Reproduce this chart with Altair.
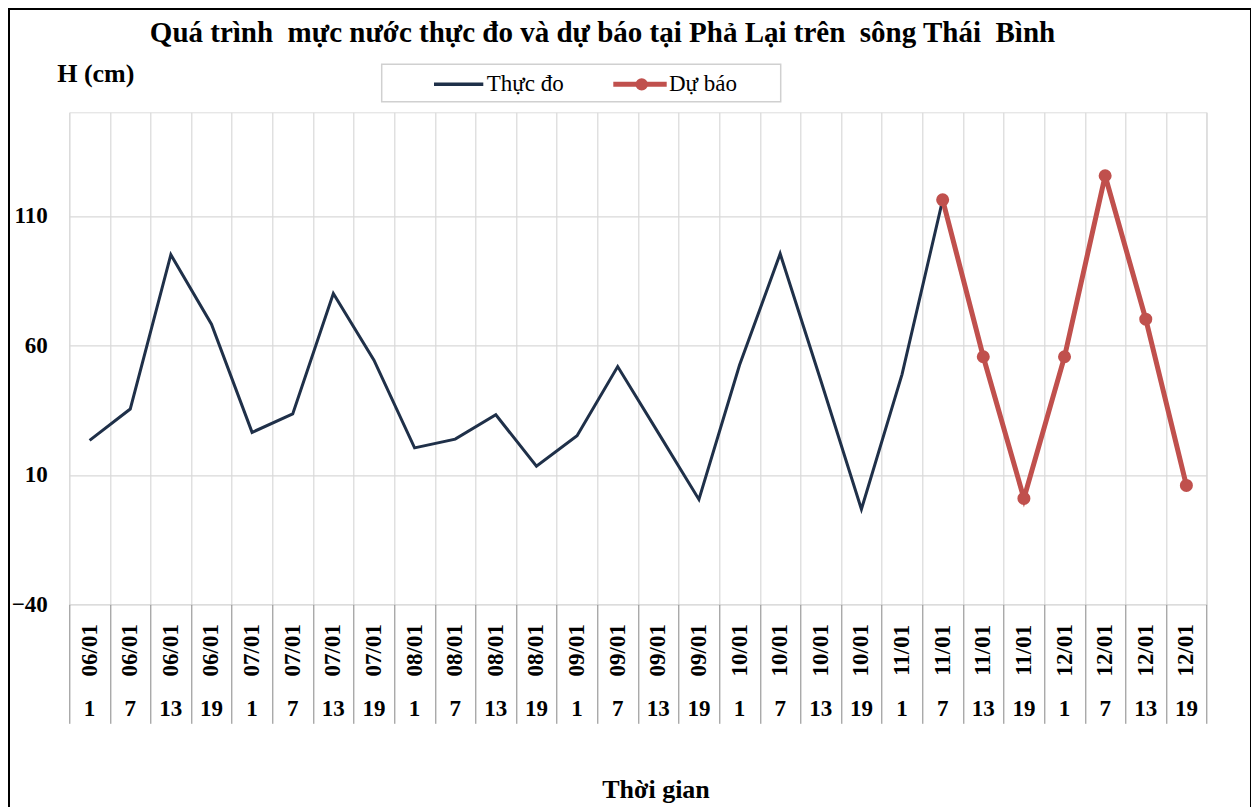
import altair as alt
import pandas as pd

# ---------------- data ----------------
keys = ["06/01 1", "06/01 7", "06/01 13", "06/01 19",
        "07/01 1", "07/01 7", "07/01 13", "07/01 19",
        "08/01 1", "08/01 7", "08/01 13", "08/01 19",
        "09/01 1", "09/01 7", "09/01 13", "09/01 19",
        "10/01 1", "10/01 7", "10/01 13", "10/01 19",
        "11/01 1", "11/01 7", "11/01 13", "11/01 19",
        "12/01 1", "12/01 7", "12/01 13", "12/01 19"]
dates = ["06/01"] * 4 + ["07/01"] * 4 + ["08/01"] * 4 + ["09/01"] * 4 + \
        ["10/01"] * 4 + ["11/01"] * 4 + ["12/01"] * 4
hours = ["1", "7", "13", "19"] * 7

measured = [23.3, 35.4, 95.0, 68.2, 26.4, 33.5, 80.0, 54.3, 20.4, 23.8, 33.2,
            13.3, 25.1, 51.8, 26.2, 0.5, 52.4, 95.4, 46.4, -3.3, 48.8, 116.2]
forecast = [116.2, 55.6, 0.9, 55.6, 125.5, 70.1, 5.9]

series_names = ["Thực đo", "Dự báo"]
title_text = "Quá trình\u00a0 mực nước thực đo và dự báo tại Phả Lại trên\u00a0 sông Thái\u00a0 Bình"
y_title = "H (cm)"
x_title = "Thời gian"
y_ticks = [-40, 10, 60, 110]

df_m = pd.DataFrame({"key": keys[:len(measured)], "H": measured})
df_f = pd.DataFrame({"key": keys[len(keys) - len(forecast):], "H": forecast})
df_lab = pd.DataFrame({"key": keys, "date": dates, "hour": hours})
one = pd.DataFrame({"a": [0]})

FONT = "Liberation Serif"
NAVY = "#1f3049"
RED = "#c0504d"

W, H = 1137.4, 492

xscale = alt.Scale(type="band", domain=keys, paddingInner=0, paddingOuter=0)
x_axis = alt.Axis(tickBand="extent", labels=False, domain=False, ticks=True,
                  tickSize=119, tickColor="#868686", tickWidth=1,
                  grid=True, gridColor="#d9d9d9", gridWidth=1.2,
                  title=x_title, titleFont=FONT, titleFontSize=26, titleFontWeight="bold",
                  titleColor="#000", titleX=586.2, titleY=193.4, titleAlign="center",
                  titleBaseline="alphabetic", titleAngle=0)
y_axis = alt.Axis(values=y_ticks, grid=True, gridColor="#d9d9d9", gridWidth=1.2,
                  domain=False, ticks=False, labelPadding=22,
                  labelFont=FONT, labelFontSize=23, labelFontWeight="bold", labelColor="#000",
                  title=y_title, titleFont=FONT, titleFontSize=26, titleFontWeight="bold",
                  titleColor="#000", titleAngle=0, titleAlign="left", titleBaseline="alphabetic",
                  titleX=-12.6, titleY=-30.6)
xenc = alt.X("key:N", scale=xscale, axis=x_axis)
yenc = alt.Y("H:Q", scale=alt.Scale(domain=[-40, 150], nice=False, zero=False), axis=y_axis)

border = alt.Chart(one).mark_rect(fillOpacity=0, stroke="#000", strokeWidth=2).encode(
    x=alt.value(-60.3), x2=alt.value(1181.7), y=alt.value(-103.3), y2=alt.value(720))

line_m = alt.Chart(df_m).mark_line(color=NAVY, strokeWidth=3).encode(x=xenc, y=yenc)
line_f = alt.Chart(df_f).mark_line(
    color=RED, strokeWidth=5,
    point=alt.OverlayMarkDef(filled=True, size=170, color=RED, opacity=1)
).encode(x=xenc, y=yenc)

date_txt = alt.Chart(df_lab).mark_text(
    font=FONT, fontSize=23, fontWeight="bold", angle=270, align="center",
    baseline="middle", color="#000").encode(x=xenc, y=alt.value(538), text="date:N")
hour_txt = alt.Chart(df_lab).mark_text(
    font=FONT, fontSize=23, fontWeight="bold", align="center",
    baseline="alphabetic", color="#000").encode(x=xenc, y=alt.value(603.7), text="hour:N")

title = alt.Chart(one).mark_text(
    font=FONT, fontSize=29, fontWeight="bold", align="center", baseline="alphabetic",
    color="#000", text=title_text).encode(x=alt.value(533.2), y=alt.value(-70.6))

# legend
leg_box = alt.Chart(one).mark_rect(fill="white", stroke="#d0d0d0", strokeWidth=1.5).encode(
    x=alt.value(312.4), x2=alt.value(711.4), y=alt.value(-48), y2=alt.value(-10.6))
leg_l1 = alt.Chart(one).mark_rule(color=NAVY, strokeWidth=3.5).encode(
    x=alt.value(364.7), x2=alt.value(414), y=alt.value(-28))
leg_t1 = alt.Chart(one).mark_text(font=FONT, fontSize=23, align="left", baseline="middle",
                                  color="#000", text=series_names[0]).encode(
    x=alt.value(417.4), y=alt.value(-28))
leg_l2 = alt.Chart(one).mark_rule(color=RED, strokeWidth=5).encode(
    x=alt.value(544), x2=alt.value(597.4), y=alt.value(-28))
leg_p2 = alt.Chart(one).mark_point(filled=True, size=150, color=RED, opacity=1).encode(
    x=alt.value(572.4), y=alt.value(-28))
leg_t2 = alt.Chart(one).mark_text(font=FONT, fontSize=23, align="left", baseline="middle",
                                  color="#000", text=series_names[1]).encode(
    x=alt.value(599.7), y=alt.value(-28))

chart = alt.layer(
    border, line_m, line_f, date_txt, hour_txt, title,
    leg_box, leg_l1, leg_t1, leg_l2, leg_p2, leg_t2
).properties(
    width=W, height=H,
    autosize=alt.AutoSizeParams(type="none"),
    padding={"left": 61.3, "top": 104.3, "right": 44.3, "bottom": 202.7},
).configure_view(stroke="#868686", strokeWidth=1).configure(background="white")

chart.save("out.html", embed_options={"renderer": "svg", "actions": False})
